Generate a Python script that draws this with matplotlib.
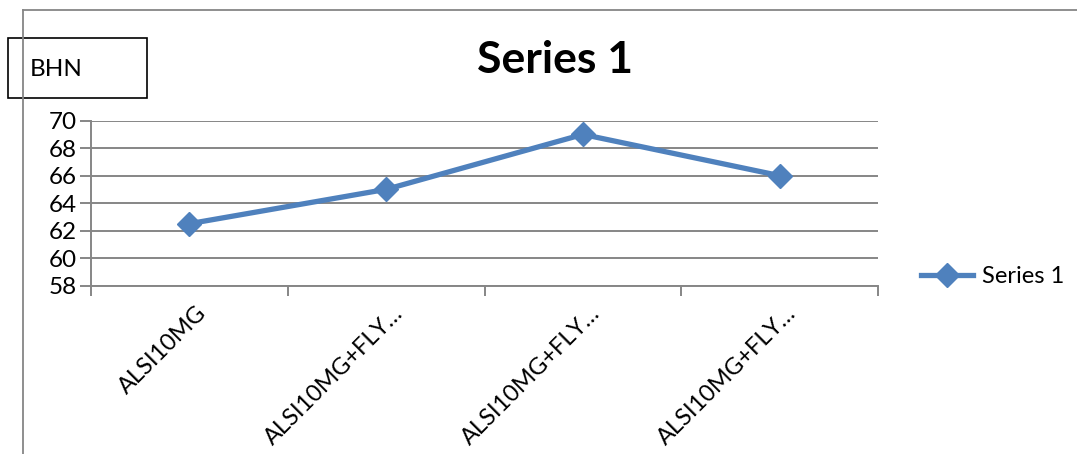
import matplotlib
matplotlib.use("Agg")
import matplotlib.pyplot as plt
from matplotlib.patches import Rectangle
from matplotlib.lines import Line2D

categories = ["ALSI10MG", "ALSI10MG+FLY…", "ALSI10MG+FLY…", "ALSI10MG+FLY…"]
values = [62.5, 65, 69, 66]
yticks = [58, 60, 62, 64, 66, 68, 70]
series_name = "Series 1"
axis_title = "BHN"

plt.rcParams['font.family'] = ['Lato', 'DejaVu Sans']

W, H = 1077, 454
fig = plt.figure(figsize=(W / 100, H / 100), dpi=100)
grey = "#868686"
blue = "#4F81BD"

# outer chart frame (cropped)
fig.add_artist(Line2D([23 / W, 1.0], [1 - 10 / H, 1 - 10 / H], color=grey, lw=1.3, transform=fig.transFigure))
fig.add_artist(Line2D([23 / W, 23 / W], [0.0, 1 - 10 / H], color=grey, lw=1.3, transform=fig.transFigure))

ax = fig.add_axes([91 / W, 1 - 285.5 / H, (878 - 91) / W, (285.5 - 120.7) / H])
x = list(range(len(categories)))
line, = ax.plot(x, values, color=blue, lw=3.8, marker='D', ms=12, label=series_name, zorder=3)

ax.set_xlim(-0.5, len(categories) - 0.5)
ax.set_ylim(min(yticks), max(yticks))
ax.set_yticks(yticks)
ax.yaxis.grid(True, color=grey, lw=1.4)
ax.set_axisbelow(True)
for s in ["top", "right"]:
    ax.spines[s].set_visible(False)
for s in ["left", "bottom"]:
    ax.spines[s].set_color(grey)
    ax.spines[s].set_linewidth(1.4)
ax.tick_params(axis='y', length=8, width=1.4, color=grey, labelsize=17.5, pad=2)
ax.set_xticks(x)
ax.set_xticklabels(categories, rotation=45, ha='right', rotation_mode='anchor', fontsize=17)
ax.tick_params(axis='x', which='major', length=0, pad=12)
ax.set_xticks([i - 0.5 for i in range(len(categories) + 1)], minor=True)
ax.tick_params(axis='x', which='minor', length=7, width=1.4, color=grey)
for lab in ax.get_xticklabels():
    lab.set_transform(lab.get_transform() + matplotlib.transforms.ScaledTranslation(0.06, 0, fig.dpi_scale_trans))

fig.text(555 / W, 1 - 60 / H, series_name, ha='center', va='center', fontsize=32, fontweight='bold')

# axis title box
fig.add_artist(Rectangle((8 / W, 1 - 98 / H), 139 / W, 60 / H, transform=fig.transFigure,
                         fill=False, edgecolor='black', lw=1.2))
fig.text(30 / W, 1 - 70 / H, axis_title, ha='left', va='center', fontsize=17.5)

fig.legend(handles=[line], loc='center left', bbox_to_anchor=(912 / W, 1 - 277 / H), frameon=False,
           fontsize=17, handlelength=2.2, handletextpad=0.35, borderaxespad=0)

fig.savefig("out.png", dpi=100)
